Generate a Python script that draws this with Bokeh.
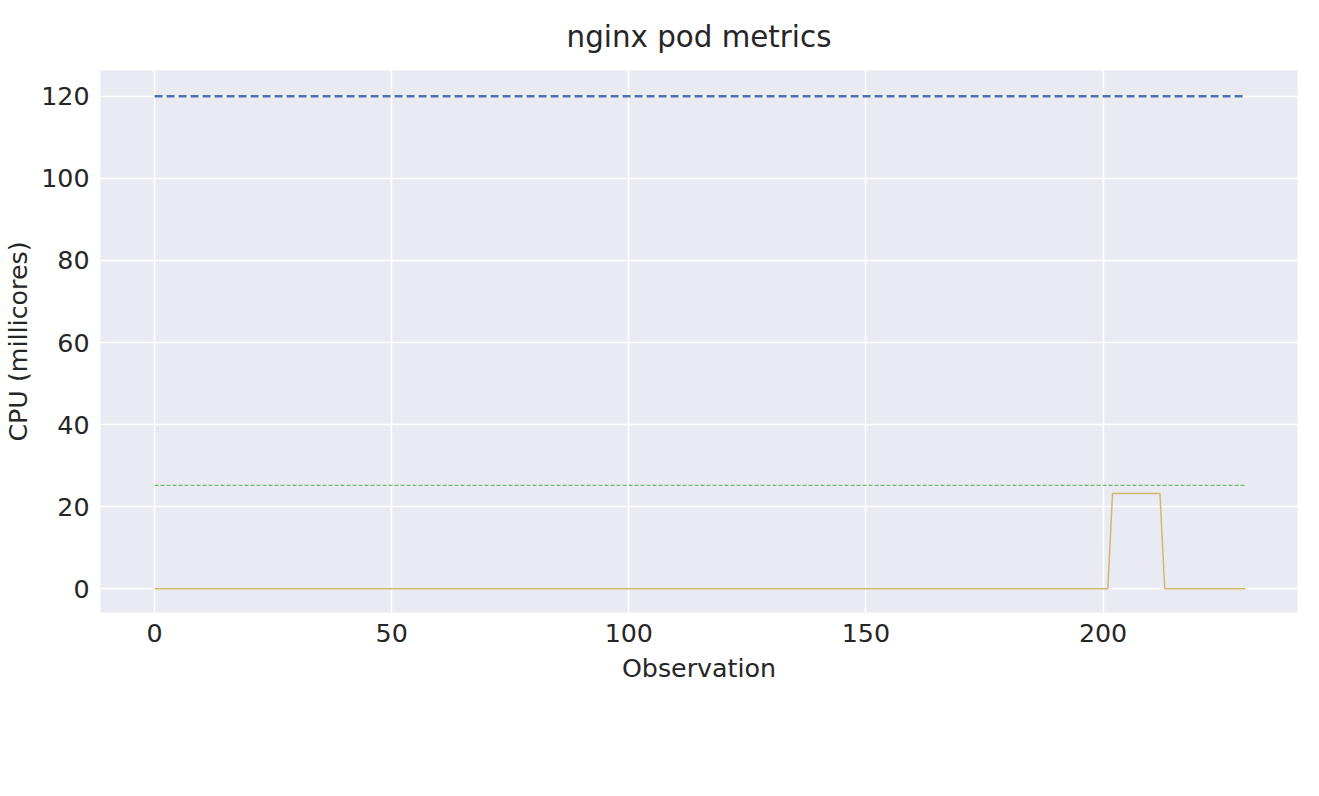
import numpy as np
from bokeh.plotting import figure
from bokeh.models import Legend, LegendItem, Range1d, SingleIntervalTicker
from bokeh.embed import file_html
from bokeh.resources import INLINE

n_obs = 231
observation = list(range(n_obs))
vpa_target = [25.2] * n_obs
cpu_requested = [120.0] * n_obs
prediction_target = [float("nan")] * n_obs
cpu_usage = [0.0] * 202 + [23.2] * 11 + [0.0] * 18

p = figure(frame_width=1197, frame_height=542, output_backend="svg", toolbar_location=None,
           x_range=Range1d(-11.4, 241), y_range=Range1d(-5.8, 126.3),
           min_border_left=100, min_border_right=5, min_border_top=20, min_border_bottom=164,
           background_fill_color="#eaeaf2", border_fill_color="white", outline_line_color=None,
           title="nginx pod metrics")
p.title.align = "center"
p.title.text_font = "DejaVu Sans"
p.title.text_font_size = "22pt"
p.title.text_font_style = "normal"
p.title.text_color = "#262626"
p.title.standoff = 34

r1 = p.line(observation, vpa_target, color="#4caf50", line_width=1, line_dash="4 2")
r2 = p.line(observation, prediction_target, color="#c44e52", line_width=2.5)
r3 = p.line(observation, cpu_requested, color="#4c72b0", line_width=2.5, line_dash="8 4")
r4 = p.line(observation, cpu_usage, color="#ccb974", line_width=1.5)

for ax in (p.xaxis[0], p.yaxis[0]):
    ax.axis_line_color = None
    ax.major_tick_line_color = None
    ax.minor_tick_line_color = None
    ax.major_label_text_font = "DejaVu Sans"
    ax.major_label_text_font_size = "19pt"
    ax.major_label_text_color = "#262626"
    ax.axis_label_text_font = "DejaVu Sans"
    ax.axis_label_text_font_size = "19pt"
    ax.axis_label_text_font_style = "normal"
    ax.axis_label_text_color = "#262626"
p.xaxis.ticker = SingleIntervalTicker(interval=50)
p.yaxis.ticker = SingleIntervalTicker(interval=20)
p.xaxis.axis_label = "Observation"
p.yaxis.axis_label = "CPU (millicores)"
p.xaxis.axis_label_standoff = 8
p.grid.grid_line_color = "white"
p.grid.grid_line_width = 1.5

legend = Legend(items=[LegendItem(label="VPA target", renderers=[r1]),
                       LegendItem(label="Prediction target", renderers=[r2]),
                       LegendItem(label="CPU requested", renderers=[r3]),
                       LegendItem(label="CPU usage", renderers=[r4])],
                orientation="horizontal", location=(137, -154),
                background_fill_color="#eaeaf2", background_fill_alpha=1,
                border_line_color="#bbbbbb", label_text_font="DejaVu Sans",
                label_text_font_size="14pt", label_text_color="#262626",
                spacing=30, margin=0, padding=6, glyph_width=50)
p.add_layout(legend, "center")

open("out.html", "w").write(file_html(p, INLINE))
